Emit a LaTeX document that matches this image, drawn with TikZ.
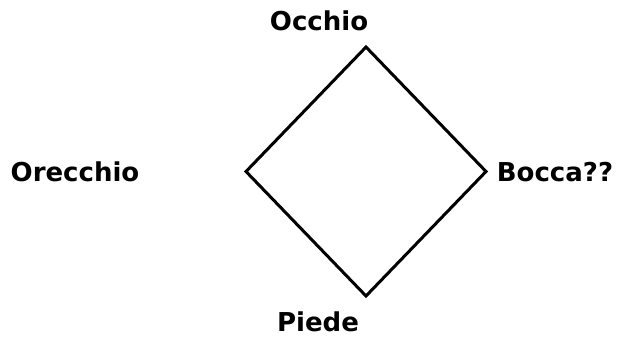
\documentclass[tikz,border=0pt]{standalone}
\usepackage{fontspec}
\setmainfont{DejaVu Sans}
\usetikzlibrary{shapes.geometric, positioning}

\begin{document}
\begin{tikzpicture}[
    x=1pt, y=-1pt,
    rombo/.style={draw, diamond, line width=3pt, inner sep=0pt, outer sep=0pt,
        minimum width=240pt, minimum height=249pt, aspect=1},
    etichetta/.style={font=\fontsize{26}{30}\selectfont\bfseries, inner sep=0pt},
]
    \useasboundingbox (0,0) rectangle (617,338);

    % diamond
    \node[rombo] (rombo) at (366, 171.5) {};

    % labels
    \node[etichetta] (occhio) at (319, 21) {Occhio};
    \node[etichetta] (orecchio) at (75, 172) {Orecchio};
    \node[etichetta] (bocca) at (555, 172) {Bocca??};
    \node[etichetta] (piede) at (318, 322) {Piede};
\end{tikzpicture}
\end{document}
